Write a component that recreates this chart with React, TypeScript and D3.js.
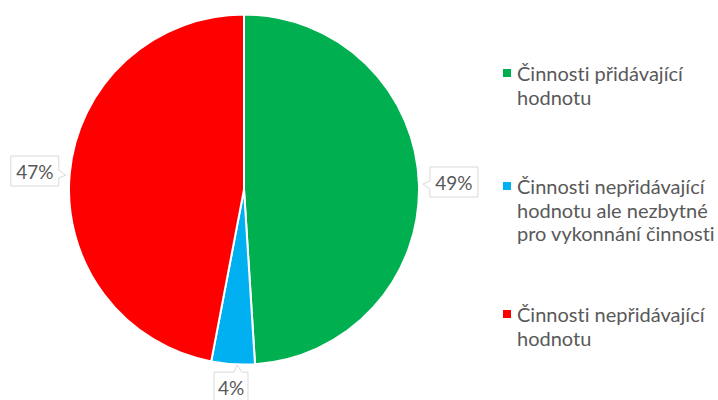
import React from "react";
import * as d3 from "d3";

const categories = [
  "Činnosti přidávající hodnotu",
  "Činnosti nepřidávající hodnotu ale nezbytné pro vykonnání činnosti",
  "Činnosti nepřidávající hodnotu",
];
const values = [49, 4, 47];
const labels = ["49%", "4%", "47%"];
const colors = ["#00b050", "#00b0f0", "#ff0000"];
const legendLines = [
  ["Činnosti přidávající", "hodnotu"],
  ["Činnosti nepřidávající", "hodnotu ale nezbytné", "pro vykonnání činnosti"],
  ["Činnosti nepřidávající", "hodnotu"],
];

const W = 718;
const H = 400;
const cx = 244;
const cy = 189.5;
const R = 175;
const FONT = "Lato, 'Open Sans', sans-serif";
const TEXT = "#595959";

function calloutPath(x0: number, y0: number, x1: number, y1: number, side: string, nx: number, ny: number) {
  const n = 4;
  const t = 7;
  if (side === "left") {
    return `M${x0},${y0}H${x1}V${y1}H${x0}V${ny + n}L${x0 - t},${ny - 1}L${x0},${ny - n}Z`;
  }
  if (side === "right") {
    return `M${x0},${y0}H${x1}V${ny - n}L${x1 + t},${ny + 1}L${x1},${ny + n}V${y1}H${x0}Z`;
  }
  return `M${x0},${y0}H${nx - n}L${nx - 1},${y0 - t}L${nx + n},${y0}H${x1}V${y1}H${x0}Z`;
}

export default function App() {
  const pie = d3.pie<number>().sort(null).value((d) => d);
  const arcs = pie(values);
  const arc = d3.arc<d3.PieArcDatum<number>>().innerRadius(0).outerRadius(R);

  return (
    <svg
      width={W}
      height={H}
      style={{ position: "absolute", left: 0, top: 0, background: "#fff", fontVariantLigatures: "none" }}
    >
      <g transform={`translate(${cx},${cy})`}>
        {arcs.map((a, i) => (
          <path key={i} d={arc(a) || ""} fill={colors[i]} stroke="#fff" strokeWidth={2} />
        ))}
      </g>
      {arcs.map((a, i) => {
        const mid = (a.startAngle + a.endAngle) / 2;
        const dx = Math.sin(mid);
        const dy = -Math.cos(mid);
        const ax = cx + R * dx;
        const ay = cy + R * dy;
        const horiz = Math.abs(dx) > Math.abs(dy);
        const w = labels[i].length > 2 ? 48 : 34;
        const h = horiz ? 30 : 32;
        let bx: number, by: number, side: string;
        if (horiz) {
          bx = ax + Math.sign(dx) * (w / 2 + 11);
          by = ay - 2;
          side = dx > 0 ? "left" : "right";
        } else {
          bx = ax - 2;
          by = ay + Math.sign(dy) * (h / 2 + 8);
          side = "top";
        }
        const ty = horiz ? by + 1 : by;
        return (
          <g key={i}>
            <path
              d={calloutPath(bx - w / 2, by - h / 2, bx + w / 2, by + h / 2, side, bx + 7, by + 3)}
              fill="#fff"
              stroke="#d9d9d9"
              strokeWidth={1}
            />
            <text x={bx} y={ty} dy="0.36em" textAnchor="middle" fill={TEXT} fontFamily={FONT} fontSize={19}>
              {labels[i]}
            </text>
          </g>
        );
      })}
      {[73, 186, 314].map((y, i) => (
        <g key={i}>
          <rect x={503} y={y - 4} width={8} height={8} fill={colors[i]} />
          {legendLines[i].map((line, j) => (
            <text key={j} x={517} y={y + 1 + j * 23.5} dy="0.36em" fill={TEXT} fontFamily={FONT} fontSize={20}>
              {line}
            </text>
          ))}
        </g>
      ))}
      <title>{categories.join(", ")}</title>
    </svg>
  );
}
